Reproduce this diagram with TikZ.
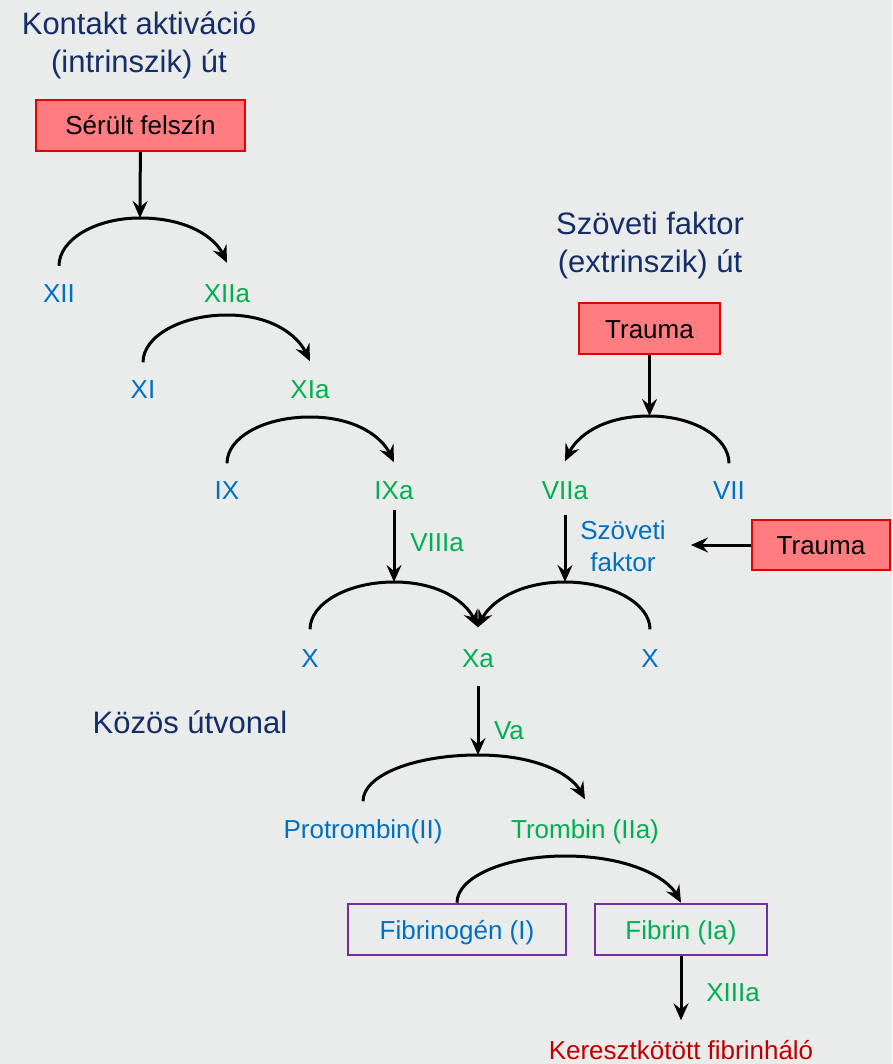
\documentclass[tikz,border=0pt]{standalone}
\usepackage{fontspec}
\setmainfont{Liberation Sans}
\usepackage{xcolor}
\usepackage{tikz}
\usetikzlibrary{arrows.meta,positioning,calc}

\definecolor{bgc}{HTML}{EAEBEB}
\definecolor{navy}{HTML}{142E68}
\definecolor{fblue}{HTML}{0070C0}
\definecolor{fgreen}{HTML}{00B050}
\definecolor{fred}{HTML}{C00000}
\definecolor{boxred}{HTML}{FF7C80}
\definecolor{edgered}{HTML}{E60000}
\definecolor{fpurple}{HTML}{7030A0}

\tikzset{
  lab/.style={font=\fontsize{26}{32}\selectfont, inner sep=0pt, text height=19pt, text depth=0pt},
  inact/.style={lab, text=fblue},
  act/.style={lab, text=fgreen},
  title/.style={font=\fontsize{31}{38}\selectfont, text=navy, align=center, inner sep=0pt},
  redbox/.style={draw=edgered, line width=2pt, fill=boxred, lab, text=black},
  purplebox/.style={draw=fpurple, line width=2.6pt, lab, minimum height=51pt},
  conv/.style={line width=3pt, -{Stealth[length=17pt,width=15pt,inset=6pt]}}
}

\begin{document}
\begin{tikzpicture}[x=1pt, y=1pt]
    \fill[bgc] (0,0) rectangle (892,-1064);
    \useasboundingbox (0,0) rectangle (892,-1064);

    % intrinsic pathway
    \node[title] (tintr) at (139,-45) {Kontakt aktiváció\\(intrinszik) út};
    \node[redbox, minimum width=209pt, minimum height=51pt] (serult) at (140.5,-125.5) {Sérült felszín};
    \node[inact] (xii) at (59,-292.5) {XII};
    \node[act] (xiia) at (227,-292.5) {XIIa};
    \node[inact] (xi) at (143,-389) {XI};
    \node[act] (xia) at (310,-389) {XIa};
    \node[inact] (ix) at (227,-490) {IX};
    \node[act] (ixa) at (394,-490) {IXa};
    \node[act] (viiia) at (437,-542) {VIIIa};

    % extrinsic pathway
    \node[title] (textr) at (650,-245) {Szöveti faktor\\(extrinszik) út};
    \node[redbox, minimum width=141pt, minimum height=51pt] (trauma1) at (649.5,-328.5) {Trauma};
    \node[act] (viia) at (565,-490) {VIIa};
    \node[inact] (vii) at (729,-490) {VII};
    \node[inact, align=center, text height=, text depth=] (szf) at (623,-546) {Szöveti\\faktor};
    \node[redbox, minimum width=138pt, minimum height=50pt] (trauma2) at (821,-545) {Trauma};

    % common pathway
    \node[inact] (xl) at (310,-658) {X};
    \node[act] (xa) at (478,-658) {Xa};
    \node[inact] (xr) at (650,-658) {X};
    \node[title] (kozos) at (190,-722) {Közös útvonal};
    \node[act] (va) at (509,-730) {Va};
    \node[inact] (protr) at (363,-829) {Protrombin(II)};
    \node[act] (tromb) at (585,-829) {Trombin (IIa)};
    \node[purplebox, text=fblue, minimum width=218pt] (fibrinogen) at (457,-929.5) {Fibrinogén (I)};
    \node[purplebox, text=fgreen, minimum width=172pt] (fibrin) at (681,-929.5) {Fibrin (Ia)};
    \node[act] (xiiia) at (733,-992) {XIIIa};
    \node[lab, text=fred] (kereszt) at (681,-1050) {Keresztkötött fibrinháló};

    % arc tops and free ends
    \coordinate (p1) at (140,-218);
    \coordinate (p2) at (227,-315);
    \coordinate (p3) at (310,-417);
    \coordinate (p7) at (649.5,-416);
    \coordinate (pxl) at (394,-582);
    \coordinate (pxr) at (565,-582);
    \coordinate (pv) at (478,-755);
    \coordinate (pf) at (565,-856);
    \coordinate (tf) at (691,-545);

    \draw[conv] (serult) -- (p1);
    \draw[conv] ([yshift=17pt]xii.north) .. controls +(0,26) and +(-45,0) .. (p1) .. controls +(48,0) and +(-12,25) .. ([yshift=20pt]xiia.north);
    \draw[conv] ([yshift=17pt]xi.north) .. controls +(0,26) and +(-46,0) .. (p2) .. controls +(46,0) and +(-12,25) .. ([yshift=18pt]xia.north);
    \draw[conv] ([yshift=17pt]ix.north) .. controls +(0,26) and +(-46,0) .. (p3) .. controls +(46,0) and +(-12,25) .. ([yshift=18pt]ixa.north);

    \draw[conv] (trauma1) -- (p7);
    \draw[conv] ([yshift=17pt]vii.north) .. controls +(0,26) and +(44,0) .. (p7) .. controls +(-47,0) and +(12,25) .. ([yshift=19pt]viia.north);

    \draw[conv] ([yshift=-10pt]ixa.south) -- (pxl);
    \draw[conv] ([yshift=-15pt]viia.south) -- (pxr);
    \draw[conv] (trauma2) -- (tf);

    \draw[conv] ([yshift=19pt]xl.north) .. controls +(0,26) and +(-46,0) .. (pxl) .. controls +(46,0) and +(-12,25) .. ([yshift=21pt]xa.north);
    \draw[conv] ([yshift=19pt]xr.north) .. controls +(0,26) and +(46,0) .. (pxr) .. controls +(-46,0) and +(12,25) .. ([yshift=21pt]xa.north);

    \draw[conv] ([yshift=-18pt]xa.south) -- (pv);
    \draw[conv] ([yshift=18pt]protr.north) .. controls +(0,26) and +(-64,0) .. (pv) .. controls +(59,0) and +(-14,25) .. ([yshift=20pt]tromb.north);
    \draw[conv] (fibrinogen.north) .. controls +(0,26) and +(-59,0) .. (pf) .. controls +(64,0) and +(-14,25) .. (fibrin.north);
    \draw[conv] (fibrin) -- ([yshift=20pt]kereszt.north);
\end{tikzpicture}
\end{document}
